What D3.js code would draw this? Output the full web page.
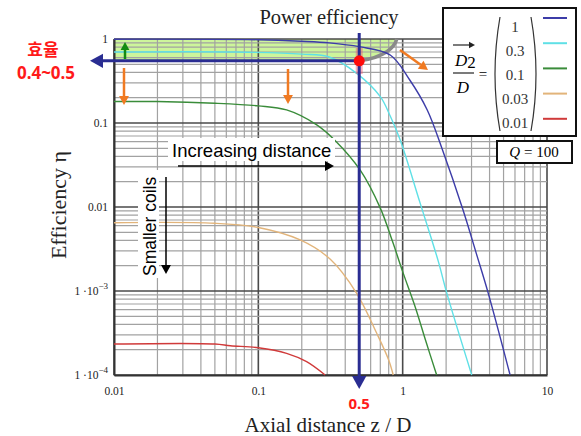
<!DOCTYPE html>
<html>
<head>
<meta charset="utf-8">
<script src="https://cdn.jsdelivr.net/npm/d3@7"></script>
<style>
  body { margin: 0; background: #fff; }
  svg { display: block; }
</style>
</head>
<body>
<svg width="581" height="436"></svg>
<script>
// values: axial distance z/D vs efficiency
const ratioLabels = ["1", "0.3", "0.1", "0.03", "0.01"]
const curveD1   = [[0.01, 0.995], [0.1, 0.98], [0.2, 0.94], [0.31, 0.90], [0.5, 0.81], [0.82, 0.645], [1.12, 0.325], [1.48, 0.143], [1.87, 0.05], [2.62, 0.0092], [3.28, 0.0026], [3.91, 0.00095], [5.55, 0.0001]]
const curveD03  = [[0.01, 0.70], [0.07, 0.70], [0.2, 0.66], [0.31, 0.61], [0.48, 0.39], [0.70, 0.206], [0.82, 0.121], [0.96, 0.063], [1.32, 0.0112], [1.76, 0.0023], [2.02, 0.00095], [3.01, 0.0001]]
const curveD01  = [[0.01, 0.18], [0.02, 0.18], [0.05, 0.172], [0.1, 0.16], [0.157, 0.143], [0.254, 0.095], [0.34, 0.062], [0.507, 0.0276], [0.70, 0.0097], [0.85, 0.0039], [1.0, 0.0017], [1.22, 0.00065], [1.45, 0.00025], [1.72, 0.0001]]
const curveD003 = [[0.01, 0.0065], [0.05, 0.0064], [0.1, 0.0057], [0.195, 0.00405], [0.314, 0.0024], [0.48, 0.00094], [0.66, 0.000316], [0.80, 0.000151], [0.86, 0.0001]]
const curveD001 = [[0.01, 0.000234], [0.05, 0.000234], [0.064, 0.000223], [0.1, 0.000211], [0.157, 0.000181], [0.216, 0.000144], [0.29, 0.0001]]

const xTickVals = [0.01, 0.1, 1, 10]
const xTickText = ["0.01", "0.1", "1", "10"]
const yTickVals = [1, 0.1, 0.01, 1e-3, 1e-4]
const yTickBase = ["1", "0.1", "0.01", "1 \u00b710", "1 \u00b710"]
const yTickExp  = ["", "", "", "\u22123", "\u22124"]

// operating point marked on the chart
const markZ = 0.5
const markEta = 0.55

const curves = [curveD1, curveD03, curveD01, curveD003, curveD001]
const colors = ["#3c3ca8", "#5fe0e6", "#3a8c3a", "#e2b47a", "#d03a3a"]

const svg = d3.select("svg")
const serif = "'Liberation Serif', 'DejaVu Serif', serif"
const sans = "'Liberation Sans', Arial, sans-serif"

const scaleX = d3.scaleLog().domain([0.01, 10]).range([114, 547])
const scaleY = d3.scaleLog().domain([1e-4, 1]).range([375, 39])

const isMajor = v => Math.abs(Math.log10(v) - Math.round(Math.log10(v))) < 1e-9

// green "good efficiency" zone
const zonePath = d3.path()
zonePath.moveTo(scaleX(0.01), scaleY(1))
zonePath.lineTo(scaleX(0.91), scaleY(1))
zonePath.bezierCurveTo(scaleX(0.88), scaleY(0.8), scaleX(0.75), scaleY(0.6), scaleX(markZ), scaleY(markEta))
zonePath.lineTo(scaleX(0.01), scaleY(markEta))
zonePath.closePath()

svg.append("path")
  .attr("d", zonePath.toString())
  .attr("fill", "#cdf59b")

// grid
const grid = svg.append("g").attr("class", "grid")
grid.selectAll("line.gx")
  .data(scaleX.ticks())
  .enter()
  .append("line")
  .attr("x1", d => scaleX(d)).attr("x2", d => scaleX(d))
  .attr("y1", scaleY(1)).attr("y2", scaleY(1e-4))
  .attr("stroke", d => isMajor(d) ? "#4a4a4a" : "#a2a2a2")
  .attr("stroke-width", d => isMajor(d) ? 1.6 : 1.2)

grid.selectAll("line.gy")
  .data(scaleY.ticks())
  .enter()
  .append("line")
  .attr("y1", d => scaleY(d)).attr("y2", d => scaleY(d))
  .attr("x1", scaleX(0.01)).attr("x2", scaleX(10))
  .attr("stroke", d => isMajor(d) ? "#4a4a4a" : "#a2a2a2")
  .attr("stroke-width", d => isMajor(d) ? 1.6 : 1.2)

// gray edge of the zone
const edge = d3.path()
edge.moveTo(scaleX(markZ), scaleY(markEta))
edge.bezierCurveTo(scaleX(0.75), scaleY(0.6), scaleX(0.88), scaleY(0.8), scaleX(0.91), scaleY(1))
svg.append("path")
  .attr("d", edge.toString())
  .attr("fill", "none")
  .attr("stroke", "#8a8a8a")
  .attr("stroke-width", 3.5)

// axes
const axisX = d3.axisBottom(scaleX)
  .tickValues(xTickVals)
  .tickFormat((d, i) => xTickText[i])
  .tickSize(0)
  .tickPadding(12)

const axisY = d3.axisLeft(scaleY)
  .tickValues(yTickVals)
  .tickFormat((d, i) => yTickBase[i])
  .tickSize(0)
  .tickPadding(6)

const axisXGroup = svg.append("g")
  .attr("transform", `translate(0, ${scaleY(1e-4)})`)
  .call(axisX)
const axisYGroup = svg.append("g")
  .attr("transform", `translate(${scaleX(0.01)}, 0)`)
  .call(axisY)

axisXGroup.select(".domain").attr("stroke", "#333").attr("stroke-width", 2)
axisYGroup.select(".domain").attr("stroke", "#333").attr("stroke-width", 2)

svg.selectAll(".tick text")
  .attr("font-family", serif)
  .attr("font-size", 11.5)
  .attr("fill", "#222")

axisYGroup.selectAll(".tick text").each(function(d, i) {
  if (yTickExp[i]) {
    d3.select(this).append("tspan")
      .attr("dy", -6)
      .attr("font-size", 9)
      .text(yTickExp[i])
  }
})

// curves
const line = d3.line()
  .x(d => scaleX(d[0]))
  .y(d => scaleY(d[1]))
  .curve(d3.curveCatmullRom.alpha(0.5))

svg.selectAll("path.curve")
  .data(curves)
  .enter()
  .append("path")
  .attr("class", "curve")
  .attr("d", line)
  .attr("fill", "none")
  .attr("stroke", (d, i) => colors[i])
  .attr("stroke-width", 1.4)

// arrow helper
const arrow = (x1, y1, x2, y2, color, w, head) => {
  const a = Math.atan2(y2 - y1, x2 - x1)
  const bx = x2 - head * Math.cos(a), by = y2 - head * Math.sin(a)
  svg.append("line")
    .attr("x1", x1).attr("y1", y1).attr("x2", bx).attr("y2", by)
    .attr("stroke", color).attr("stroke-width", w)
  const hw = head * 0.55
  const p = [
    [x2, y2],
    [bx + hw * Math.sin(a), by - hw * Math.cos(a)],
    [bx - hw * Math.sin(a), by + hw * Math.cos(a)]
  ]
  svg.append("polygon")
    .attr("points", p.map(q => q.join(",")).join(" "))
    .attr("fill", color)
}

const navy = "#2a2d92"
const orange = "#f07a22"

// pink double arrow around the mark
svg.append("line")
  .attr("x1", scaleX(markZ)).attr("x2", scaleX(markZ))
  .attr("y1", 48).attr("y2", 74)
  .attr("stroke", "rgba(240,80,110,0.45)").attr("stroke-width", 7)

// navy guide arrows
arrow(scaleX(markZ), scaleY(markEta), 90, scaleY(markEta), navy, 3, 13)
arrow(scaleX(markZ), 33, scaleX(markZ), 389, navy, 3, 13)

svg.append("circle")
  .attr("cx", scaleX(markZ))
  .attr("cy", scaleY(markEta))
  .attr("r", 5.5)
  .attr("fill", "#ff0a0a")

// green / orange hint arrows
arrow(125, 59, 125, 42, "#138a13", 2.5, 8)
arrow(124, 68, 124, 105, orange, 2.5, 9)
arrow(288, 69, 288, 104, orange, 2.5, 9)
arrow(400, 50, 428, 70, orange, 2.5, 9)

// "Increasing distance"
svg.append("rect")
  .attr("x", 168).attr("y", 138).attr("width", 167).attr("height", 23)
  .attr("fill", "#fff")
svg.append("text")
  .attr("x", 172).attr("y", 157)
  .attr("font-family", sans).attr("font-size", 18.5)
  .text("Increasing distance")
arrow(178, 166, 334, 166, "#000", 1.5, 9)

// "Smaller coils"
svg.append("rect")
  .attr("x", 138).attr("y", 170).attr("width", 21).attr("height", 108)
  .attr("fill", "#fff")
svg.append("text")
  .attr("transform", "translate(156, 276) rotate(-90)")
  .attr("font-family", sans).attr("font-size", 17.5)
  .text("Smaller coils")
arrow(166, 177, 166, 274, "#000", 1.5, 9)

// titles
svg.append("text")
  .attr("x", 329).attr("y", 24)
  .attr("text-anchor", "middle")
  .attr("font-family", serif).attr("font-size", 20.5)
  .attr("fill", "#222")
  .text("Power efficiency")

svg.append("text")
  .attr("x", 328).attr("y", 432)
  .attr("text-anchor", "middle")
  .attr("font-family", serif).attr("font-size", 21)
  .attr("fill", "#222")
  .text("Axial distance z / D")

svg.append("text")
  .attr("transform", "translate(66, 205) rotate(-90)")
  .attr("text-anchor", "middle")
  .attr("font-family", serif).attr("font-size", 22)
  .attr("fill", "#222")
  .text("Efficiency \u03b7")

// red notes
const red = "#ff1a1a"
svg.append("text")
  .attr("x", 43).attr("y", 56)
  .attr("text-anchor", "middle")
  .attr("font-family", "'Noto Sans CJK KR', sans-serif").attr("font-weight", "bold").attr("font-size", 17)
  .attr("fill", red)
  .text("\ud6a8\uc728")
svg.append("text")
  .attr("x", 46).attr("y", 79)
  .attr("text-anchor", "middle")
  .attr("font-family", "'Noto Sans', sans-serif").attr("font-weight", "bold").attr("font-size", 17)
  .attr("fill", red)
  .text("0.4~0.5")
svg.append("text")
  .attr("x", scaleX(markZ)).attr("y", 409)
  .attr("text-anchor", "middle")
  .attr("font-family", "'Noto Sans', sans-serif").attr("font-weight", "bold").attr("font-size", 15)
  .attr("fill", red)
  .text("0.5")

// legend
const lg = svg.append("g")
lg.append("rect")
  .attr("x", 443).attr("y", 8).attr("width", 133).attr("height", 128)
  .attr("fill", "#fff").attr("stroke", "#111").attr("stroke-width", 2)

const frac = lg.append("text")
  .attr("x", 455).attr("y", 66)
  .attr("font-family", serif).attr("font-size", 17).attr("font-style", "italic")
frac.append("tspan").text("D")
frac.append("tspan").attr("font-style", "normal").attr("dy", 2).text("2")
arrow(453, 45, 475, 45, "#222", 1.2, 6)
lg.append("line")
  .attr("x1", 453).attr("x2", 474).attr("y1", 73).attr("y2", 73)
  .attr("stroke", "#222").attr("stroke-width", 1.2)
lg.append("text")
  .attr("x", 463).attr("y", 93)
  .attr("text-anchor", "middle")
  .attr("font-family", serif).attr("font-size", 17).attr("font-style", "italic")
  .text("D")
lg.append("text")
  .attr("x", 483).attr("y", 79)
  .attr("text-anchor", "middle")
  .attr("font-family", serif).attr("font-size", 15)
  .text("=")

lg.append("path")
  .attr("d", "M 500 17 Q 490 74 500 131")
  .attr("fill", "none").attr("stroke", "#333").attr("stroke-width", 1.2)
lg.append("path")
  .attr("d", "M 531 17 Q 541 74 531 131")
  .attr("fill", "none").attr("stroke", "#333").attr("stroke-width", 1.2)

lg.selectAll("text.val")
  .data(ratioLabels)
  .enter()
  .append("text")
  .attr("class", "val")
  .attr("x", 515)
  .attr("y", (d, i) => 32 + i * 24)
  .attr("text-anchor", "middle")
  .attr("font-family", serif).attr("font-size", 15)
  .attr("fill", "#333")
  .text(d => d)

lg.selectAll("line.sw")
  .data(ratioLabels)
  .enter()
  .append("line")
  .attr("x1", 543).attr("x2", 567)
  .attr("y1", (d, i) => 18 + i * 25.2)
  .attr("y2", (d, i) => 18 + i * 25.2)
  .attr("stroke", (d, i) => colors[i])
  .attr("stroke-width", 2)

// Q box
svg.append("rect")
  .attr("x", 497).attr("y", 141).attr("width", 75).attr("height", 22)
  .attr("fill", "#fff").attr("stroke", "#111").attr("stroke-width", 2)
const qt = svg.append("text")
  .attr("x", 534).attr("y", 157)
  .attr("text-anchor", "middle")
  .attr("font-family", serif).attr("font-size", 15)
qt.append("tspan").attr("font-style", "italic").text("Q")
qt.append("tspan").text(" = 100")
</script>
</body>
</html>
